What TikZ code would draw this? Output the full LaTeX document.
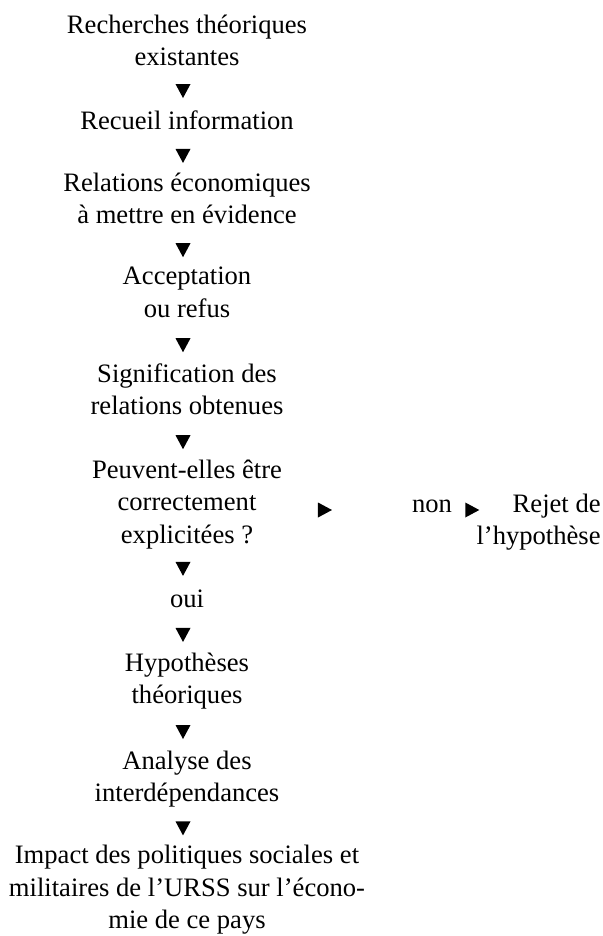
\documentclass[tikz,border=0pt]{standalone}
\usepackage{fontspec}
\setmainfont{Liberation Serif}
\usetikzlibrary{decorations.markings}

\tikzset{
  stage/.style={font=\fontsize{13.3}{16.2}\selectfont, align=center, inner sep=0pt,
    execute at begin node=\strut, execute at end node=\strut},
  flow/.style={postaction={decorate}, decoration={markings,
    mark=at position #1 with {\fill [black, yshift=-2pt] (3.5pt,0) -- (-3.5pt,3.75pt) -- (-3.5pt,-3.75pt) -- cycle;}}},
  flow/.default=0.5
}

\begin{document}
\begin{tikzpicture}[x=0.5pt, y=-0.5pt]
\useasboundingbox (0,0) rectangle (603,936);

%the main chain
\node [stage] (rech) at (187,45) {Recherches théoriques\\existantes};
\node [stage] (recu) at (187,123) {Recueil information};
\node [stage] (rela) at (187,203) {Relations économiques\\à mettre en évidence};
\node [stage] (acce) at (187,297) {Acceptation\\ou refus};
\node [stage] (sign) at (187,394) {Signification des\\relations obtenues};
\node [stage] (peuv) at (187,506.5) {Peuvent-elles être\\correctement\\explicitées ?};
\node [stage] (oui) at (187,601) {oui};
\node [stage] (hypo) at (187,683) {Hypothèses\\théoriques};
\node [stage] (anal) at (187,781) {Analyse des\\interdépendances};
\node [stage] (impa) at (187,892) {Impact des politiques sociales et\\militaires de l’URSS sur l’écono-\\mie de ce pays};

%the side branch
\node [stage] (non) at (432,506) {non};
\node [stage, anchor=east, align=right] (rejet) at (601,524) {Rejet de\\l’hypothèse};

%the arrows
\path [flow] (rech) -- (recu);
\path [flow] (recu) -- (rela);
\path [flow] (rela) -- (acce);
\path [flow] (acce) -- (sign);
\path [flow] (sign) -- (peuv);
\path [flow] (peuv) -- (oui);
\path [flow] (oui) -- (hypo);
\path [flow] (hypo) -- (anal);
\path [flow] (anal) -- (impa);
\path [flow=0.33] (peuv.east |- non.west) -- (non.west);
\path [flow=0.84] (non.east) -- (non.east -| rejet.west);
\end{tikzpicture}
\end{document}
